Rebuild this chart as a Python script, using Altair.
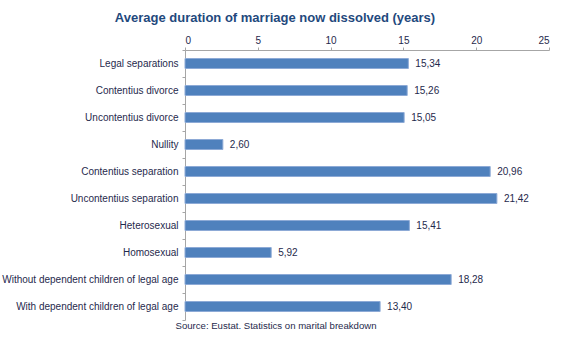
import altair as alt
import pandas as pd

categories = [
    "Legal separations",
    "Contentius divorce",
    "Uncontentius divorce",
    "Nullity",
    "Contentius separation",
    "Uncontentius separation",
    "Heterosexual",
    "Homosexual",
    "Without dependent children of legal age",
    "With dependent children of legal age",
]
values = [15.34, 15.26, 15.05, 2.60, 20.96, 21.42, 15.41, 5.92, 18.28, 13.40]
x_ticks = [0, 5, 10, 15, 20, 25]
title_text = "Average duration of marriage now dissolved (years)"
source_text = "Source: Eustat. Statistics on marital breakdown"

df = pd.DataFrame({"category": categories, "value": values})

FONT = "Liberation Sans"
NAVY = "#1F2A4D"
GRAY = "#A6A6A6"

x_enc = alt.X(
    "value:Q",
    scale=alt.Scale(domain=[0, 25], nice=False),
    axis=alt.Axis(
        orient="top", values=x_ticks, grid=False, title=None,
        domainColor=GRAY, tickColor=GRAY, tickSize=3,
        labelFont=FONT, labelFontSize=10, labelColor=NAVY, labelPadding=2,
    ),
)
y_enc = alt.Y(
    "category:N",
    sort=categories,
    scale=alt.Scale(paddingInner=0, paddingOuter=0),
    axis=alt.Axis(
        title=None, tickBand="extent", domainColor=GRAY, tickColor=GRAY,
        tickSize=3, labelPadding=4, labelLimit=400,
        labelFont=FONT, labelFontSize=10, labelColor=NAVY,
    ),
)

bars = alt.Chart(df).mark_bar(
    size=10, color="#4F81BD", stroke="#8DAAD6", strokeWidth=1
).encode(x=x_enc, y=y_enc)

labels = alt.Chart(df).transform_calculate(
    label="replace(format(datum.value, '.2f'), '.', ',')"
).mark_text(
    align="left", baseline="middle", dx=7, font=FONT, fontSize=10, color=NAVY
).encode(x="value:Q", y=alt.Y("category:N", sort=categories), text="label:N")

source = alt.Chart(pd.DataFrame({"t": [source_text]})).mark_text(
    align="center", baseline="middle", font=FONT, fontSize=9.6, color=NAVY
).encode(x=alt.value(91), y=alt.value(276), text="t:N")

chart = alt.layer(bars, labels, source).properties(
    width=364,
    height=270,
    background="white",
    autosize=alt.AutoSizeParams(type="none"),
    padding={"left": 185, "top": 50, "right": 18, "bottom": 17},
    title=alt.Title(
        title_text, anchor="middle", frame="group", dx=-92, dy=-6,
        font=FONT, fontSize=13, fontWeight="bold", color="#1F497D",
    ),
).configure_view(stroke=None, strokeWidth=0)

chart.save("out.html", embed_options={"renderer": "svg", "actions": False})
